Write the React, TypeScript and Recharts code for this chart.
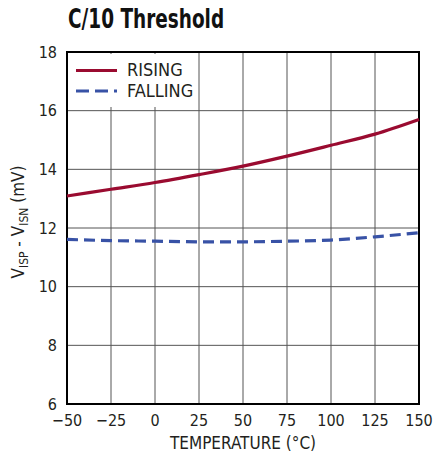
import { LineChart, Line, XAxis, YAxis, CartesianGrid, ReferenceArea } from 'recharts'

// temperature (°C)
const temps = [-50, -25, 0, 25, 50, 75, 100, 125, 150]
// VISP - VISN threshold (mV)
const rising = [13.09, 13.32, 13.55, 13.82, 14.11, 14.45, 14.82, 15.2, 15.7]
const falling = [11.61, 11.57, 11.55, 11.53, 11.53, 11.55, 11.59, 11.7, 11.84]

const xTicks = [-50, -25, 0, 25, 50, 75, 100, 125, 150]
const yTicks = [6, 8, 10, 12, 14, 16, 18]

const data = temps.map((t, i) => ({ t, rising: rising[i], falling: falling[i] }))

const FONT = '"Liberation Sans Narrow", "DejaVu Sans Condensed", Arial, sans-serif'
const RED = '#9a0b30'
const BLUE = '#3852a6'
const INK = '#231f20'

const YLabel = () => (
  <text
    x={24}
    y={222}
    transform="rotate(-90 24 222)"
    textAnchor="middle"
    fontFamily={FONT}
    fontSize={17}
    fill={INK}
  >
    V<tspan fontSize={12} dy={4}>ISP</tspan>
    <tspan dy={-4}> - V</tspan>
    <tspan fontSize={12} dy={4}>ISN</tspan>
    <tspan dy={-4}> (mV)</tspan>
  </text>
)

// legend drawn as an overlay box, like the white key in the datasheet plot
const LegendBox = () => (
  <div
    style={{
      position: 'absolute',
      left: 69,
      top: 54,
      background: '#fff',
      width: 126,
      height: 53,
      fontFamily: FONT,
      fontSize: 18,
      color: INK,
    }}
  >
    <svg width={50} height={53} style={{ position: 'absolute', left: 0, top: 0 }}>
      <line x1={7} x2={48} y1={16.5} y2={16.5} stroke={RED} strokeWidth={3} />
      <line x1={7} x2={48} y1={37} y2={37} stroke={BLUE} strokeWidth={3} strokeDasharray="13 6" />
    </svg>
    <div style={{ position: 'absolute', left: 58, top: 6, lineHeight: '20px' }}>RISING</div>
    <div style={{ position: 'absolute', left: 58, top: 27, lineHeight: '20px' }}>FALLING</div>
  </div>
)

export default function App() {
  return (
    <div style={{ position: 'absolute', left: 0, top: 0, width: 433, height: 463, background: '#fff' }}>
      <div
        style={{
          position: 'absolute',
          left: 68,
          top: 4,
          fontFamily: FONT,
          fontWeight: 'bold',
          fontSize: 27,
          color: '#111',
          lineHeight: '30px',
          whiteSpace: 'nowrap',
          transform: 'scaleX(0.76)',
          transformOrigin: 'left center',
        }}
      >
        C/10 Threshold
      </div>
      <LineChart
        width={433}
        height={463}
        data={data}
        margin={{ top: 52, right: 14, left: 7, bottom: 19 }}
      >
        <CartesianGrid stroke="#555" strokeWidth={1} horizontal vertical />
        <XAxis
          dataKey="t"
          type="number"
          domain={[-50, 150]}
          ticks={xTicks}
          interval={0}
          height={40}
          tickSize={0}
          tickMargin={11}
          axisLine={false}
          tickLine={false}
          tickFormatter={(v: number) => String(v).replace('-', '\u2212')}
          tick={{ fontFamily: FONT, fontSize: 16, fill: INK }}
          label={{
            value: 'TEMPERATURE (°C)',
            position: 'insideBottom',
            offset: 0,
            dy: 5,
            style: { fontFamily: FONT, fontSize: 17, fill: INK },
          }}
        />
        <YAxis
          type="number"
          domain={[6, 18]}
          ticks={yTicks}
          interval={0}
          width={60}
          tickSize={0}
          tickMargin={10}
          axisLine={false}
          tickLine={false}
          tick={{ fontFamily: FONT, fontSize: 16, fill: INK }}
          label={<YLabel />}
        />
        <ReferenceArea x1={-50} x2={150} y1={6} y2={18} fill="none" stroke="#000" strokeWidth={2} />
        <Line
          type="monotone"
          dataKey="rising"
          stroke={RED}
          strokeWidth={3.2}
          dot={false}
          isAnimationActive={false}
        />
        <Line
          type="monotone"
          dataKey="falling"
          stroke={BLUE}
          strokeWidth={3.2}
          strokeDasharray="11 6"
          dot={false}
          isAnimationActive={false}
        />
      </LineChart>
      <LegendBox />
    </div>
  )
}
